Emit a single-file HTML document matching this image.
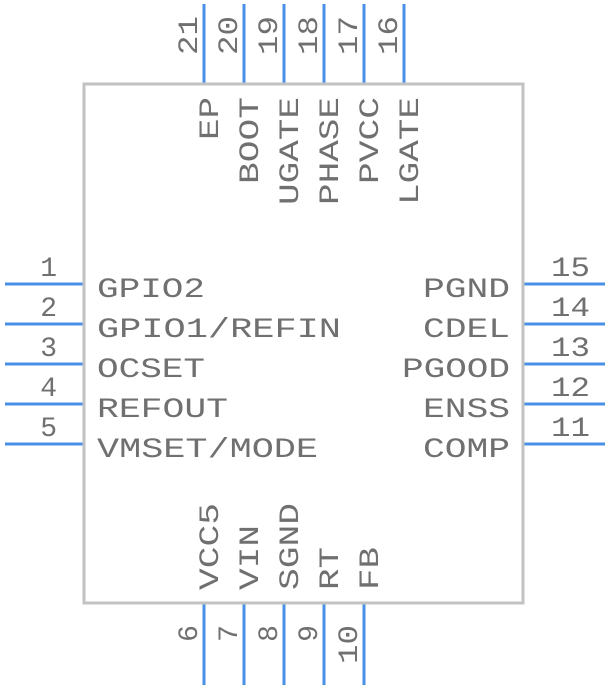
<!DOCTYPE html>
<html><head><style>html,body{margin:0;padding:0;background:#fff}</style></head><body>
<svg width="608" height="688" xmlns="http://www.w3.org/2000/svg" style="display:block">
<g stroke="#4a8fe8" stroke-width="3">
<line x1="5" y1="284" x2="84" y2="284"/><line x1="5" y1="324" x2="84" y2="324"/><line x1="5" y1="364" x2="84" y2="364"/><line x1="5" y1="404" x2="84" y2="404"/><line x1="5" y1="444" x2="84" y2="444"/>
<line x1="523" y1="284" x2="605" y2="284"/><line x1="523" y1="324" x2="605" y2="324"/><line x1="523" y1="364" x2="605" y2="364"/><line x1="523" y1="404" x2="605" y2="404"/><line x1="523" y1="444" x2="605" y2="444"/>
<line x1="204" y1="4" x2="204" y2="84"/><line x1="244" y1="4" x2="244" y2="84"/><line x1="284" y1="4" x2="284" y2="84"/><line x1="324" y1="4" x2="324" y2="84"/><line x1="364" y1="4" x2="364" y2="84"/><line x1="404" y1="4" x2="404" y2="84"/>
<line x1="204" y1="603" x2="204" y2="685"/><line x1="244" y1="603" x2="244" y2="685"/><line x1="284" y1="603" x2="284" y2="685"/><line x1="324" y1="603" x2="324" y2="685"/><line x1="364" y1="603" x2="364" y2="685"/>
</g>
<rect x="84" y="84" width="439" height="519" fill="none" stroke="#c2c2c2" stroke-width="3"/>
<g font-family="Liberation Mono, monospace" font-size="28" fill="#707070">
<text lengthAdjust="spacingAndGlyphs" x="97" y="297" textLength="108">GPIO2</text>
<text lengthAdjust="spacingAndGlyphs" x="97" y="337" textLength="244">GPIO1/REFIN</text>
<text lengthAdjust="spacingAndGlyphs" x="97" y="377" textLength="108">OCSET</text>
<text lengthAdjust="spacingAndGlyphs" x="97" y="417" textLength="131">REFOUT</text>
<text lengthAdjust="spacingAndGlyphs" x="97" y="457" textLength="221">VMSET/MODE</text>
<g text-anchor="end">
<text lengthAdjust="spacingAndGlyphs" x="510" y="297" textLength="87">PGND</text>
<text lengthAdjust="spacingAndGlyphs" x="510" y="337" textLength="87">CDEL</text>
<text lengthAdjust="spacingAndGlyphs" x="510" y="377" textLength="108">PGOOD</text>
<text lengthAdjust="spacingAndGlyphs" x="510" y="417" textLength="87">ENSS</text>
<text lengthAdjust="spacingAndGlyphs" x="510" y="457" textLength="87">COMP</text>
<text x="57" y="276">1</text><text x="57" y="316">2</text><text x="57" y="356">3</text><text x="57" y="396">4</text><text x="57" y="436">5</text>
<text lengthAdjust="spacingAndGlyphs" x="590" y="276" textLength="39">15</text><text lengthAdjust="spacingAndGlyphs" x="590" y="316" textLength="39">14</text><text lengthAdjust="spacingAndGlyphs" x="590" y="356" textLength="39">13</text><text lengthAdjust="spacingAndGlyphs" x="590" y="396" textLength="39">12</text><text lengthAdjust="spacingAndGlyphs" x="590" y="436" textLength="39">11</text>
<text lengthAdjust="spacingAndGlyphs" transform="translate(218,97) rotate(-90)" textLength="43">EP</text>
<text lengthAdjust="spacingAndGlyphs" transform="translate(258,97) rotate(-90)" textLength="87">BOOT</text>
<text lengthAdjust="spacingAndGlyphs" transform="translate(298,97) rotate(-90)" textLength="108">UGATE</text>
<text lengthAdjust="spacingAndGlyphs" transform="translate(338,97) rotate(-90)" textLength="108">PHASE</text>
<text lengthAdjust="spacingAndGlyphs" transform="translate(378,97) rotate(-90)" textLength="87">PVCC</text>
<text lengthAdjust="spacingAndGlyphs" transform="translate(418,97) rotate(-90)" textLength="108">LGATE</text>
</g>
<text lengthAdjust="spacingAndGlyphs" transform="translate(197,55) rotate(-90)" textLength="39">21</text>
<text lengthAdjust="spacingAndGlyphs" transform="translate(237,55) rotate(-90)" textLength="39">20</text>
<text lengthAdjust="spacingAndGlyphs" transform="translate(277,55) rotate(-90)" textLength="39">19</text>
<text lengthAdjust="spacingAndGlyphs" transform="translate(317,55) rotate(-90)" textLength="39">18</text>
<text lengthAdjust="spacingAndGlyphs" transform="translate(357,55) rotate(-90)" textLength="39">17</text>
<text lengthAdjust="spacingAndGlyphs" transform="translate(397,55) rotate(-90)" textLength="39">16</text>
<text lengthAdjust="spacingAndGlyphs" transform="translate(218,590) rotate(-90)" textLength="87">VCC5</text>
<text lengthAdjust="spacingAndGlyphs" transform="translate(258,590) rotate(-90)" textLength="65">VIN</text>
<text lengthAdjust="spacingAndGlyphs" transform="translate(298,590) rotate(-90)" textLength="87">SGND</text>
<text lengthAdjust="spacingAndGlyphs" transform="translate(338,590) rotate(-90)" textLength="43">RT</text>
<text lengthAdjust="spacingAndGlyphs" transform="translate(378,590) rotate(-90)" textLength="43">FB</text>
<g text-anchor="end">
<text transform="translate(197,625) rotate(-90)">6</text>
<text transform="translate(237,625) rotate(-90)">7</text>
<text transform="translate(277,625) rotate(-90)">8</text>
<text transform="translate(317,625) rotate(-90)">9</text>
<text lengthAdjust="spacingAndGlyphs" transform="translate(357,625) rotate(-90)" textLength="39">10</text>
</g>
</g>
</svg>
</body></html>
